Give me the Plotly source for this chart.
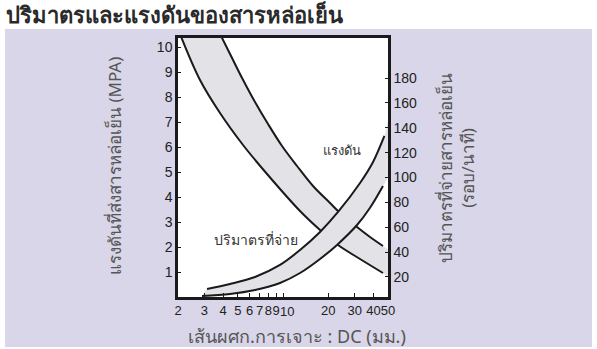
import plotly.graph_objects as go
import math

# ---- data ----
x_tick_vals = [2, 3, 4, 5, 6, 7, 8, 9, 10, 20, 30, 40, 50]
x_tick_text = ["2", "3", "4", "5", "6", "7", "8", "9", "10", "20", "30", "40", "50"]
left_ticks = [1, 2, 3, 4, 5, 6, 7, 8, 9, 10]
right_ticks = [20, 40, 60, 80, 100, 120, 140, 160, 180]

# pressure band (MPa, left axis) - upper edge (last point = shading edge at the frame)
pres_hi_x = [3.84, 4.58, 5.34, 6.51, 7.95, 9.85, 12.4, 15.84, 20.56, 23.25, 31.1, 37.96, 46.3, 50]
pres_hi_y = [10.48, 9.56, 8.76, 7.8, 6.92, 6.04, 5.24, 4.44, 3.76, 3.44, 2.8, 2.4, 2.04, 1.88]
# pressure band - lower edge
pres_lo_x = [2.062, 2.802, 3.808, 5.42, 7.83, 12.98, 17.64, 23.25, 32.57, 46.3, 50]
pres_lo_y = [10.52, 8.68, 7.36, 6.08, 4.92, 3.44, 2.68, 2.08, 1.52, 0.96, 0.84]

# flow band (right axis) - upper edge
flow_hi_x = [3.12, 4.44, 6.51, 9.55, 12.98, 17.64, 23.25, 32.57, 39.76, 47.3, 50]
flow_hi_y = [10.4, 14.4, 20.0, 29.7, 41.7, 56.2, 72.3, 95.6, 112.5, 133.4, 144.6]
# flow band - lower edge
flow_lo_x = [2.89, 4.44, 6.51, 9.55, 12.98, 17.64, 22.89, 31.1, 37.96, 46.3, 50]
flow_lo_y = [4.7, 6.4, 9.6, 15.2, 23.2, 34.5, 45.8, 61.8, 75.7, 93.2, 101.2]

title_text = "ปริมาตรและแรงดันของสารหล่อเย็น"
x_title = "เส้นผศก.การเจาะ : DC (มม.)"
y_title = "แรงดันที่ส่งสารหล่อเย็น (MPA)"
y2_title = "ปริมาตรที่จ่ายสารหล่อเย็น<br>(รอบ/นาที)"
label_pressure = "แรงดัน"
label_flow = "ปริมาตรที่จ่าย"

# ---- styles ----
BAND = "#E3E3E7"
LAV = "#D8D6E8"
FONT = "Liberation Sans, Arial, sans-serif"
TFONT = "Noto Sans, Liberation Sans, sans-serif"

# the "10" label sits a little right of its tick in the original (crowded labels)
SHIFTED = "10"
axis_tick_text = ["" if t == SHIFTED else t for t in x_tick_text]

fig = go.Figure()

# bands (fill)
fig.add_trace(go.Scatter(x=pres_hi_x + pres_lo_x[::-1], y=pres_hi_y + pres_lo_y[::-1],
                         fill="toself", fillcolor=BAND, mode="lines",
                         line=dict(width=0, shape="spline", smoothing=1), hoverinfo="skip",
                         showlegend=False))
fig.add_trace(go.Scatter(x=flow_hi_x + flow_lo_x[::-1], y=flow_hi_y + flow_lo_y[::-1],
                         fill="toself", fillcolor=BAND, mode="lines",
                         line=dict(width=0, shape="spline", smoothing=1), hoverinfo="skip",
                         showlegend=False, yaxis="y2"))

line = dict(color="#1a1a1a", width=2, shape="spline", smoothing=1)
fig.add_trace(go.Scatter(x=pres_hi_x[:-1], y=pres_hi_y[:-1], mode="lines", line=line, showlegend=False))
fig.add_trace(go.Scatter(x=pres_lo_x[:-1], y=pres_lo_y[:-1], mode="lines", line=line, showlegend=False))
fig.add_trace(go.Scatter(x=flow_hi_x[:-1], y=flow_hi_y[:-1], mode="lines", line=line, showlegend=False, yaxis="y2"))
fig.add_trace(go.Scatter(x=flow_lo_x[:-1], y=flow_lo_y[:-1], mode="lines", line=line, showlegend=False, yaxis="y2"))

L, R, T, B = 178, 388, 38, 297
W, H = R - L, B - T


def px(x):
    return (x - L) / W


def py(y):
    return (B - y) / H


fig.update_layout(
    width=597, height=349,
    margin=dict(l=L, r=597 - R, t=T, b=349 - B, autoexpand=False),
    paper_bgcolor="white", plot_bgcolor="white",
    font=dict(family=FONT, size=14, color="#222"),
    xaxis=dict(type="log", range=[0.30103, 1.69897], tickvals=x_tick_vals, ticktext=axis_tick_text,
               tickangle=0, automargin=False,
               ticks="inside", ticklen=4, tickcolor="#1a1a1a", showgrid=False, zeroline=False,
               showline=True, linecolor="#1a1a1a", linewidth=2.5, mirror=True,
               tickfont=dict(size=13, color="#222")),
    yaxis=dict(range=[0, 10.36], tickvals=left_ticks, ticks="inside", ticklen=3, automargin=False,
               tickcolor="#1a1a1a", showgrid=False, zeroline=False,
               showline=True, linecolor="#1a1a1a", linewidth=2.5, mirror=True,
               tickfont=dict(size=14, color="#222")),
    yaxis2=dict(range=[3.9, 212.2], tickvals=right_ticks, overlaying="y", side="right",
                automargin=False,
                ticks="inside", ticklen=3, tickcolor="#1a1a1a", showgrid=False, zeroline=False,
                showline=True, linecolor="#1a1a1a", linewidth=2.5,
                tickfont=dict(size=14, color="#222")),
    shapes=[
        dict(type="rect", xref="paper", yref="paper", x0=px(5), x1=px(592), y0=py(347), y1=py(29),
             fillcolor=LAV, line=dict(width=0), layer="below"),
        dict(type="rect", xref="paper", yref="paper", x0=0, x1=1, y0=0, y1=1,
             fillcolor="white", line=dict(width=0), layer="below"),
    ],
    annotations=[
        dict(text=SHIFTED, xref="x", yref="paper", x=math.log10(float(SHIFTED)), y=0,
             yshift=-14, xshift=4, xanchor="center", yanchor="middle", showarrow=False,
             font=dict(family=FONT, size=13, color="#222")),
        dict(text="<b>" + title_text + "</b>", xref="paper", yref="paper", x=px(4), y=py(14),
             xanchor="left", yanchor="middle", showarrow=False,
             font=dict(family=TFONT, size=22, color="#2a2a2a")),
        dict(text=y_title, xref="paper", yref="paper", x=px(114), y=py(166), textangle=-90,
             xanchor="center", yanchor="middle", showarrow=False,
             font=dict(family=TFONT, size=17, color="#555")),
        dict(text=y2_title, xref="paper", yref="paper", x=px(456), y=py(168), textangle=-90,
             xanchor="center", yanchor="middle", showarrow=False,
             font=dict(family=TFONT, size=17, color="#555")),
        dict(text=x_title, xref="paper", yref="paper", x=px(297), y=py(336),
             xanchor="center", yanchor="middle", showarrow=False,
             font=dict(family=TFONT, size=18, color="#555")),
        dict(text=label_pressure, xref="paper", yref="paper", x=px(342), y=py(150),
             xanchor="center", yanchor="middle", showarrow=False,
             font=dict(family=TFONT, size=13, color="#333")),
        dict(text=label_flow, xref="paper", yref="paper", x=px(256), y=py(239),
             xanchor="center", yanchor="middle", showarrow=False,
             font=dict(family=TFONT, size=14, color="#333")),
    ],
)

fig.write_html("out.html", config={"displayModeBar": False},
               post_script="document.body.style.margin='0';document.body.style.overflow='hidden';")
